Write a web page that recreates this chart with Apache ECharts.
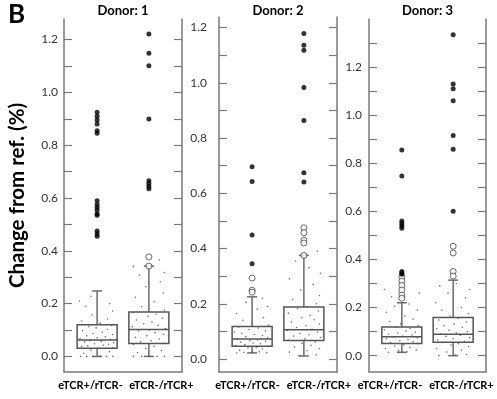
<!DOCTYPE html>
<html>
<head>
<meta charset="utf-8">
<script src="https://cdn.jsdelivr.net/npm/echarts@6/dist/echarts.min.js"></script>
<style>
  html, body { margin: 0; padding: 0; background: #fff; }
  #chart { width: 497px; height: 399px; }
</style>
</head>
<body>
<div id="chart"></div>
<script>
'use strict';

var donors = ['Donor: 1', 'Donor: 2', 'Donor: 3'];
var categories = ['eTCR+/rTCR-', 'eTCR-/rTCR+'];
var yMin = [-0.059, -0.047, -0.068];
var yMax = [1.278, 1.238, 1.4];
var yLabels = [0, 0.2, 0.4, 0.6, 0.8, 1.0, 1.2];
var yTicks12 = [0, 0.1, 0.2, 0.3, 0.4, 0.5, 0.6, 0.7, 0.8, 0.9, 1.0, 1.1, 1.2];
var yTicks3 = [0, 0.1, 0.2, 0.3, 0.4, 0.5, 0.6, 0.7, 0.8, 0.9, 1.0, 1.1, 1.2, 1.3];

// [min, Q1, median, Q3, max] per category
var boxD1 = [[0, 0.031, 0.062, 0.12, 0.248], [0, 0.049, 0.102, 0.168, 0.342]];
var boxD2 = [[0.022, 0.046, 0.072, 0.118, 0.225], [0.011, 0.067, 0.106, 0.188, 0.375]];
var boxD3 = [[0.014, 0.051, 0.079, 0.119, 0.22], [0, 0.056, 0.089, 0.159, 0.314]];

// far outliers (filled) and mild outliers (open)
var farD1 = [[0.925, 0.91, 0.895, 0.88, 0.855, 0.845, 0.59, 0.575, 0.565, 0.555, 0.54, 0.535, 0.475, 0.465, 0.455],
             [1.221, 1.148, 1.101, 0.899, 0.665, 0.655, 0.645, 0.635]];
var mildD1 = [[], [0.342, 0.377]];
var farD2 = [[0.696, 0.643, 0.449, 0.345], [1.178, 1.136, 1.118, 0.983, 0.863, 0.674, 0.641]];
var mildD2 = [[0.293, 0.249, 0.242], [0.475, 0.457, 0.43, 0.42, 0.375]];
var farD3 = [[0.855, 0.747, 0.56, 0.55, 0.54, 0.53, 0.35, 0.344, 0.338], [1.334, 1.13, 1.11, 1.06, 0.916, 0.858, 0.6]];
var mildD3 = [[0.328, 0.31, 0.292, 0.273, 0.252, 0.239], [0.455, 0.427, 0.35, 0.331]];

// individual points: [offset from box centre, value]
var jitD1 = [
  [[-0.32,0],[-0.2,0],[-0.08,0],[0.06,0],[0.18,0],[0.3,0],[-0.26,0.012],[0.24,0.018],[-0.12,0.024],[0.02,0.03],[0.3,0.033],[-0.3,0.037],[-0.18,0.04],[0.12,0.042],[0.22,0.046],[-0.05,0.048],[0.32,0.052],[-0.24,0.055],[0.08,0.057],[-0.14,0.06],[0.26,0.064],[-0.33,0.068],[0.0,0.071],[0.16,0.074],[-0.2,0.078],[0.3,0.083],[-0.08,0.087],[0.1,0.092],[-0.28,0.097],[0.2,0.102],[-0.02,0.108],[-0.16,0.113],[0.28,0.118],[0.06,0.126],[-0.3,0.134],[0.2,0.142],[-0.1,0.158],[0.3,0.172],[-0.22,0.19],[0.24,0.2],[-0.34,0.21],[-0.12,0.228]],
  [[-0.3,0],[-0.14,0],[0.02,0],[0.16,0],[0.3,0],[-0.22,0.015],[0.24,0.022],[-0.06,0.03],[0.1,0.038],[-0.3,0.045],[0.3,0.05],[-0.16,0.055],[0.04,0.06],[0.2,0.066],[-0.26,0.072],[-0.04,0.078],[0.28,0.084],[0.12,0.09],[-0.2,0.096],[0.0,0.1],[0.32,0.106],[-0.32,0.112],[0.18,0.118],[-0.1,0.124],[0.06,0.13],[-0.24,0.138],[0.26,0.145],[-0.02,0.152],[0.14,0.16],[-0.3,0.166],[0.3,0.176],[-0.14,0.188],[0.1,0.207],[-0.26,0.224],[0.28,0.24],[-0.06,0.264],[0.22,0.283],[-0.18,0.308],[0.3,0.318],[-0.3,0.34],[0.2,0.365]]
];
var jitD2 = [
  [[-0.3,0.022],[-0.16,0.024],[0.0,0.025],[0.14,0.026],[0.28,0.023],[-0.24,0.032],[0.2,0.036],[-0.08,0.04],[0.08,0.043],[0.32,0.046],[-0.32,0.049],[-0.14,0.052],[0.16,0.055],[0.02,0.058],[-0.22,0.061],[0.26,0.064],[-0.04,0.067],[0.1,0.07],[-0.28,0.073],[0.3,0.077],[-0.12,0.081],[0.2,0.085],[0.04,0.089],[-0.2,0.093],[-0.34,0.098],[0.26,0.102],[-0.06,0.107],[0.12,0.112],[-0.26,0.116],[0.32,0.122],[0.0,0.13],[-0.18,0.14],[0.22,0.15],[-0.3,0.165],[0.1,0.18],[0.3,0.19],[-0.12,0.205],[0.2,0.22]],
  [[-0.1,0.012],[0.24,0.015],[-0.28,0.025],[0.06,0.03],[0.3,0.038],[-0.18,0.044],[0.14,0.05],[-0.04,0.056],[0.22,0.062],[-0.3,0.068],[0.02,0.073],[0.32,0.078],[-0.2,0.083],[0.1,0.088],[-0.08,0.093],[0.26,0.098],[-0.32,0.103],[0.16,0.108],[-0.14,0.114],[0.04,0.12],[0.3,0.127],[-0.24,0.134],[0.2,0.142],[-0.04,0.15],[0.12,0.158],[-0.3,0.166],[0.28,0.174],[-0.12,0.182],[0.06,0.19],[0.24,0.2],[-0.22,0.215],[0.3,0.23],[-0.06,0.25],[0.18,0.27],[-0.28,0.29],[0.32,0.31],[0.1,0.33],[-0.16,0.355],[0.26,0.39]]
];
var jitD3 = [
  [[-0.26,0.014],[0.1,0.016],[-0.06,0.02],[0.28,0.024],[-0.32,0.03],[0.16,0.035],[-0.14,0.04],[0.04,0.045],[0.32,0.05],[-0.22,0.054],[0.22,0.058],[-0.04,0.062],[0.12,0.066],[-0.3,0.07],[0.3,0.074],[-0.16,0.078],[0.02,0.082],[0.2,0.086],[-0.26,0.09],[-0.08,0.094],[0.26,0.098],[0.08,0.103],[-0.34,0.108],[0.16,0.113],[-0.12,0.118],[0.32,0.124],[-0.02,0.132],[-0.24,0.142],[0.22,0.152],[0.06,0.165],[-0.3,0.18],[0.3,0.19],[-0.14,0.205],[0.14,0.215],[-0.2,0.245],[0.34,0.26],[-0.34,0.275]],
  [[-0.28,0],[0.04,0.002],[0.26,0.005],[-0.12,0.015],[0.16,0.022],[-0.32,0.03],[0.3,0.038],[-0.04,0.044],[0.1,0.05],[-0.2,0.055],[0.22,0.06],[-0.3,0.065],[0.0,0.07],[0.32,0.075],[-0.14,0.08],[0.14,0.085],[-0.24,0.09],[0.06,0.095],[0.28,0.1],[-0.08,0.106],[-0.32,0.112],[0.18,0.118],[-0.18,0.125],[0.02,0.132],[0.26,0.14],[-0.28,0.148],[0.1,0.156],[-0.06,0.165],[0.3,0.175],[-0.22,0.19],[0.16,0.2],[-0.34,0.22],[0.24,0.24],[-0.1,0.26],[0.32,0.275],[-0.26,0.29],[0.06,0.3]]
];

var boxes = [boxD1, boxD2, boxD3];
var fars = [farD1, farD2, farD3];
var milds = [mildD1, mildD2, mildD3];
var jits = [jitD1, jitD2, jitD3];

var FONT = 'Lato, "Open Sans", sans-serif';
var AXIS_COLOR = '#7a7a7a';
var grids = [
  { left: 64, top: 19, width: 118, height: 353 },
  { left: 219, top: 17, width: 118, height: 355 },
  { left: 369, top: 19, width: 117, height: 353 }
];
var labelMargin = [6, 12, 7];
// category label centres, px from grid left (labels sit wider apart than boxes)
var labelPos = [[26.5, 97.5], [28.5, 100], [21, 92.5]];

function renderBox(params, api) {
  var x = api.value(0);
  var p = [1, 2, 3, 4, 5].map(function (d) { return api.coord([x, api.value(d)]); });
  var cx = p[0][0];
  var half = 20, cap = 5;
  var boxStyle = { stroke: '#555', lineWidth: 1.5, fill: 'none' };
  var wStyle = { stroke: '#6a6a6a', lineWidth: 1.5 };
  return {
    type: 'group',
    children: [
      { type: 'line', shape: { x1: cx, y1: p[3][1], x2: cx, y2: p[4][1] }, style: wStyle },
      { type: 'line', shape: { x1: cx, y1: p[1][1], x2: cx, y2: p[0][1] }, style: wStyle },
      { type: 'line', shape: { x1: cx - cap, y1: p[4][1], x2: cx + cap, y2: p[4][1] }, style: wStyle },
      { type: 'line', shape: { x1: cx - cap, y1: p[0][1], x2: cx + cap, y2: p[0][1] }, style: wStyle },
      { type: 'rect', shape: { x: cx - half, y: p[3][1], width: half * 2, height: p[1][1] - p[3][1] }, style: boxStyle },
      { type: 'line', shape: { x1: cx - half, y1: p[2][1], x2: cx + half, y2: p[2][1] }, style: boxStyle }
    ]
  };
}

var xAxes = [], yAxes = [], series = [], graphics = [];

grids.forEach(function (g, i) {
  g.outerBoundsMode = 'none';
  // axis that carries the marks (box centres at 0 and 1)
  xAxes.push({
    gridIndex: i, type: 'value', min: -0.64, max: 1.64,
    axisLine: { show: true, onZero: false, lineStyle: { color: AXIS_COLOR, width: 1.5 } },
    axisTick: { show: false },
    splitLine: { show: false },
    axisLabel: { show: false }
  });
  // axis that carries the category labels
  var lp = labelPos[i];
  var d = lp[1] - lp[0];
  xAxes.push({
    gridIndex: i, type: 'value', position: 'bottom',
    min: -lp[0] / d, max: (g.width - lp[0]) / d,
    axisLine: { show: false },
    axisTick: { show: false },
    splitLine: { show: false },
    axisLabel: {
      customValues: [0, 1],
      hideOverlap: false,
      formatter: function (v) { return categories[Math.round(v)]; },
      color: '#000', fontWeight: 'bold', fontSize: 11, fontFamily: FONT, margin: 8
    }
  });
  var ticks = i === 2 ? yTicks3 : yTicks12;
  var left = {
    gridIndex: i, type: 'value', position: 'left', min: yMin[i], max: yMax[i],
    axisLine: { show: true, onZero: false, lineStyle: { color: AXIS_COLOR, width: 1.5 } },
    axisTick: { show: true, inside: true, length: 8, customValues: ticks, lineStyle: { color: AXIS_COLOR, width: 1.2 } },
    axisLabel: {
      customValues: yLabels,
      formatter: function (v) { return v.toFixed(1); },
      color: '#333', fontSize: 12, fontFamily: FONT, margin: labelMargin[i]
    },
    splitLine: { show: false }
  };
  if (i === 0) {
    left.name = 'Change from ref. (%)';
    left.nameLocation = 'middle';
    left.nameGap = 36;
    left.nameTextStyle = { fontSize: 20.5, fontWeight: 'bold', color: '#000', fontFamily: FONT };
  }
  yAxes.push(left);
  yAxes.push({
    gridIndex: i, type: 'value', position: 'right', min: yMin[i], max: yMax[i],
    axisLine: { show: true, onZero: false, lineStyle: { color: AXIS_COLOR, width: 1.5 } },
    axisTick: { show: true, inside: true, length: 8, customValues: ticks, lineStyle: { color: AXIS_COLOR, width: 1.2 } },
    axisLabel: { show: false },
    splitLine: { show: false }
  });

  var xi = i * 2, yi = i * 2;
  series.push({
    type: 'custom', xAxisIndex: xi, yAxisIndex: yi,
    renderItem: renderBox,
    encode: { x: 0, y: [1, 2, 3, 4, 5] },
    data: boxes[i].map(function (b, j) { return [j].concat(b); }),
    z: 2
  });
  var jd = [], fd = [], md = [];
  jits[i].forEach(function (list, j) {
    list.forEach(function (pt) { jd.push([j + pt[0], pt[1]]); });
  });
  fars[i].forEach(function (list, j) { list.forEach(function (v) { fd.push([j, v]); }); });
  milds[i].forEach(function (list, j) { list.forEach(function (v) { md.push([j, v]); }); });
  series.push({
    type: 'scatter', xAxisIndex: xi, yAxisIndex: yi, data: jd,
    symbolSize: 1.6, itemStyle: { color: '#555', opacity: 0.85 }, z: 3, silent: true
  });
  series.push({
    type: 'scatter', xAxisIndex: xi, yAxisIndex: yi, data: md,
    symbolSize: 6, itemStyle: { color: '#fff', borderColor: '#444', borderWidth: 1 }, z: 4
  });
  series.push({
    type: 'scatter', xAxisIndex: xi, yAxisIndex: yi, data: fd,
    symbolSize: 5, itemStyle: { color: '#000' }, z: 5
  });

  graphics.push({
    type: 'text', x: g.left + g.width / 2, y: 4,
    style: { text: donors[i], textAlign: 'center', fontSize: 13, fontWeight: 'bold', fontFamily: FONT, fill: '#000' }
  });
});

graphics.push({
  type: 'text', x: 8, y: 2,
  style: { text: 'B', fontSize: 26, fontWeight: 'bold', fontFamily: FONT, fill: '#000' }
});

var chart = echarts.init(document.getElementById('chart'));
chart.setOption({
  animation: false,
  backgroundColor: '#fff',
  grid: grids,
  xAxis: xAxes,
  yAxis: yAxes,
  series: series,
  graphic: graphics
});
</script>
</body>
</html>
